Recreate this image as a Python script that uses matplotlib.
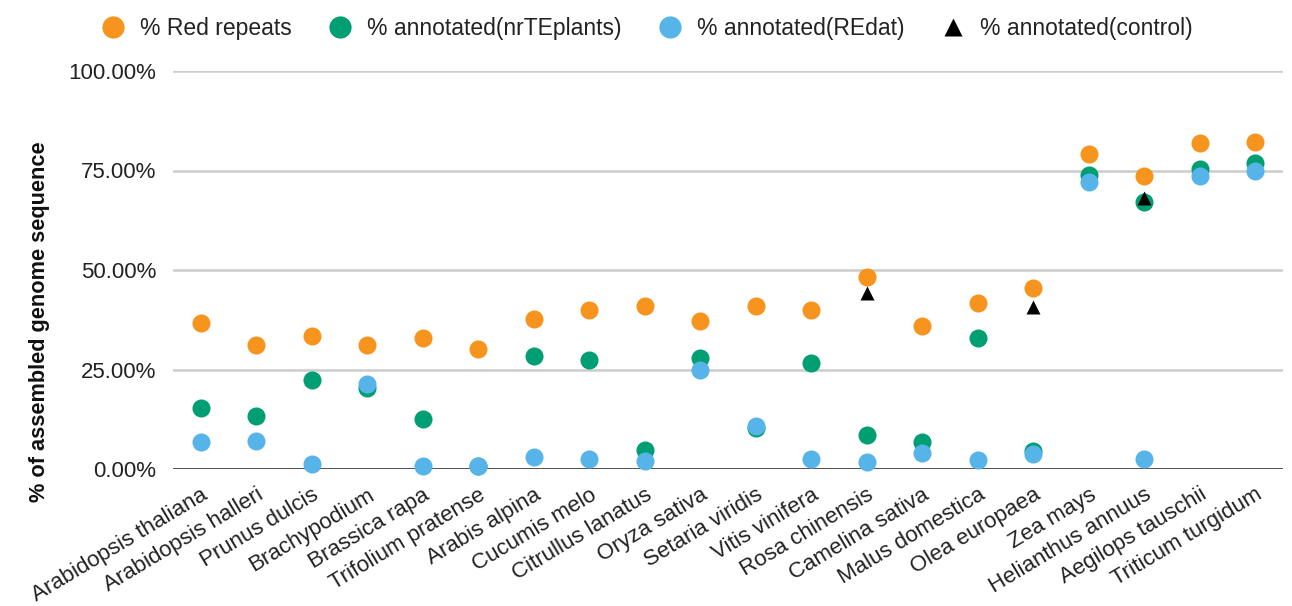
import numpy as np
import matplotlib
matplotlib.use("Agg")
import matplotlib.pyplot as plt
from matplotlib.lines import Line2D
from matplotlib.ticker import FuncFormatter
import matplotlib.transforms as mtransforms

plt.rcParams['font.family'] = ['Liberation Sans', 'DejaVu Sans']

species = [
    "Arabidopsis thaliana", "Arabidopsis halleri", "Prunus dulcis", "Brachypodium",
    "Brassica rapa", "Trifolium pratense", "Arabis alpina", "Cucumis melo",
    "Citrullus lanatus", "Oryza sativa", "Setaria viridis", "Vitis vinifera",
    "Rosa chinensis", "Camelina sativa", "Malus domestica", "Olea europaea",
    "Zea mays", "Helianthus annuus", "Aegilops tauschii", "Triticum turgidum",
]

red_repeats = [36.8, 31.2, 33.5, 31.2, 32.8, 30.1, 37.7, 40.0, 41.0, 37.1,
               41.0, 40.0, 48.2, 36.0, 41.8, 45.4, 79.1, 73.6, 81.8, 82.2]
annot_nrte = [15.4, 13.3, 22.4, 20.3, 12.6, 0.8, 28.3, 27.4, 4.8, 27.8,
              10.2, 26.6, 8.5, 6.9, 32.8, 4.4, 73.9, 67.2, 75.5, 76.8]
annot_redat = [6.7, 7.1, 1.3, 21.3, 0.75, 0.8, 3.1, 2.5, 2.1, 24.9,
               10.8, 2.5, 1.7, 3.9, 2.3, 3.7, 72.0, 2.5, 73.5, 74.9]
annot_control = [np.nan] * 12 + [44.1, np.nan, np.nan, 40.8, np.nan, 68.0, np.nan, np.nan]

series_labels = ["% Red repeats", "% annotated(nrTEplants)", "% annotated(REdat)", "% annotated(control)"]
c_orange = "#F7941E"
c_green = "#009E73"
c_blue = "#56B4E9"

fig = plt.figure(figsize=(12.92, 6.06), dpi=100)
ax = fig.add_axes([173 / 1292, 1 - 469 / 606, 1110 / 1292, 398 / 606])

x = np.arange(len(species))
ms = 13
ax.plot(x, red_repeats, 'o', ms=ms, color=c_orange, mec='none', clip_on=False, zorder=3)
ax.plot(x, annot_nrte, 'o', ms=ms, color=c_green, mec='none', clip_on=False, zorder=4)
ax.plot(x, annot_redat, 'o', ms=ms, color=c_blue, mec='none', clip_on=False, zorder=5)
ax.plot(x, annot_control, '^', ms=10.5, color='black', mec='none', clip_on=False, zorder=6)

ax.set_xlim(-0.5, len(species) - 0.5)
ax.set_ylim(0, 100)
ax.set_yticks([0, 25, 50, 75, 100])
ax.yaxis.set_major_formatter(FuncFormatter(lambda v, p: f"{v:.2f}%"))
for s in ax.spines.values():
    s.set_visible(False)
ax.grid(axis='y', color='#cccccc', lw=1.8, zorder=0)
ax.axhline(0, color='#444444', lw=2, zorder=1)
ax.set_axisbelow(True)
ax.tick_params(axis='both', length=0, labelsize=16, colors='#222222')
ax.tick_params(axis='y', pad=12)

ax.set_xticks(x)
ax.set_xticklabels(species, rotation=31, ha='right', va='top', rotation_mode='anchor')
offset = mtransforms.ScaledTranslation(9 / 100, 0, fig.dpi_scale_trans)
for lbl in ax.get_xticklabels():
    lbl.set_transform(lbl.get_transform() + offset)
ax.tick_params(axis='x', pad=11)

fig.text(40 / 1292, 1 - 322 / 606, "% of assembled genome sequence", rotation=90,
         ha='center', va='center', fontsize=15.7, fontweight='bold', color='#111111')

handles = [
    Line2D([], [], marker='o', ls='none', ms=16, color=c_orange, mec='none'),
    Line2D([], [], marker='o', ls='none', ms=16, color=c_green, mec='none'),
    Line2D([], [], marker='o', ls='none', ms=16, color=c_blue, mec='none'),
    Line2D([], [], marker='^', ls='none', ms=13, color='black', mec='none'),
]
fig.legend(handles, series_labels, loc='upper center', bbox_to_anchor=(0.5, 1.0),
           ncol=4, frameon=False, fontsize=16.5, handletextpad=0.58, columnspacing=1.5,
           handlelength=1.2, borderaxespad=0.35, labelcolor='#222222')

fig.savefig("out.png", dpi=100)
